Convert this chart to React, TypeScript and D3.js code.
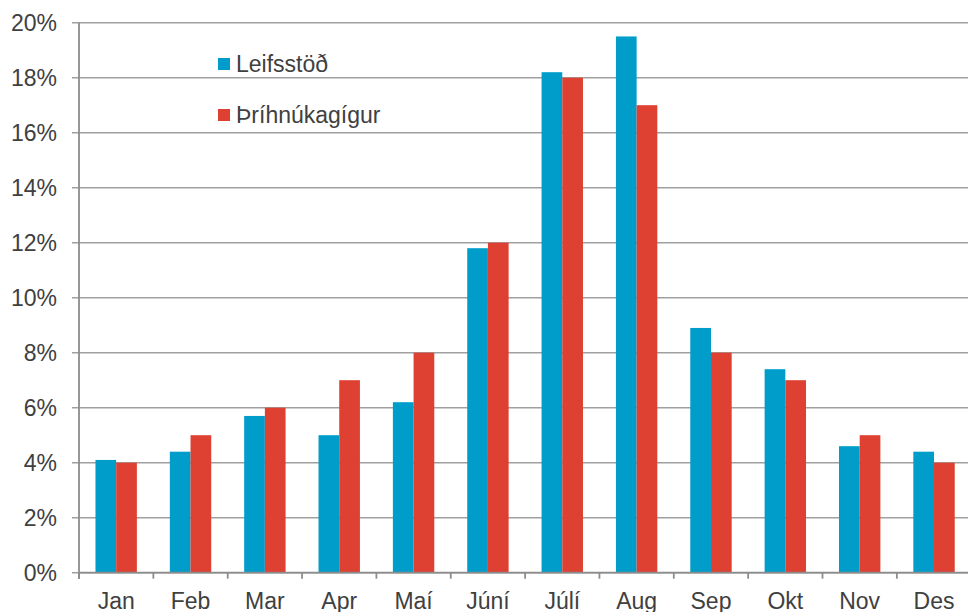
import React from "react";
import * as d3 from "d3";

const months = ["Jan", "Feb", "Mar", "Apr", "Maí", "Júní", "Júlí", "Aug", "Sep", "Okt", "Nov", "Des"];
const leifsstod = [4.1, 4.4, 5.7, 5.0, 6.2, 11.8, 18.2, 19.5, 8.9, 7.4, 4.6, 4.4];
const thrihnukagigur = [4.0, 5.0, 6.0, 7.0, 8.0, 12.0, 18.0, 17.0, 8.0, 7.0, 5.0, 4.0];
const seriesNames = ["Leifsstöð", "Þríhnúkagígur"];
const yTicks = [0, 2, 4, 6, 8, 10, 12, 14, 16, 18, 20];

const W = 968;
const H = 612;
const colors = ["#009DCB", "#DE4132"];
const font = "'Liberation Sans', Arial, sans-serif";
const fs = 23;

export default function App() {
  const left = 79;
  const bandW = 74.35;
  const x = d3.scaleBand<string>().domain(months).range([left, left + bandW * 12]).paddingInner(0).paddingOuter(0);
  const y = d3.scaleLinear().domain([0, 20]).range([572.7, 22.7]);
  const data = [leifsstod, thrihnukagigur];
  const bw = 20.7;
  return (
    <svg width={W} height={H} style={{ position: "absolute", left: 0, top: 0, background: "#fff" }}>
      {yTicks.map((t) => (
        <g key={t}>
          <line x1={72} x2={W} y1={y(t)} y2={y(t)} stroke="#A0A0A0" strokeWidth={1.6} />
          <text x={57} y={y(t)} dy="0.36em" textAnchor="end" fontFamily={font} fontSize={fs} fill="#404040">
            {t}%
          </text>
        </g>
      ))}
      {months.map((m, i) =>
        data.map((s, k) => {
          const cx = (x(m) as number) + x.bandwidth() / 2;
          const x0 = cx - bw + k * bw;
          return (
            <rect key={m + k} x={x0} y={y(s[i])} width={bw} height={y(0) - y(s[i])} fill={colors[k]} />
          );
        })
      )}
      <line x1={left} x2={left} y1={y(20)} y2={y(0) + 6} stroke="#8C8C8C" strokeWidth={1.8} />
      <line x1={left} x2={W} y1={y(0)} y2={y(0)} stroke="#8C8C8C" strokeWidth={1.8} />
      {months.map((m) => (
        <line key={"t" + m} x1={x(m) as number} x2={x(m) as number} y1={y(0)} y2={y(0) + 6} stroke="#8C8C8C" strokeWidth={1.8} />
      ))}
      {months.map((m) => (
        <text key={"l" + m} x={(x(m) as number) + x.bandwidth() / 2} y={608.5} textAnchor="middle" fontFamily={font} fontSize={fs} fill="#404040">
          {m}
        </text>
      ))}
      {seriesNames.map((n, k) => (
        <g key={n}>
          <rect x={218} y={58 + k * 51} width={12} height={12} fill={colors[k]} />
          <text x={236} y={72 + k * 51} fontFamily={font} fontSize={fs} fill="#404040">
            {n}
          </text>
        </g>
      ))}
    </svg>
  );
}
